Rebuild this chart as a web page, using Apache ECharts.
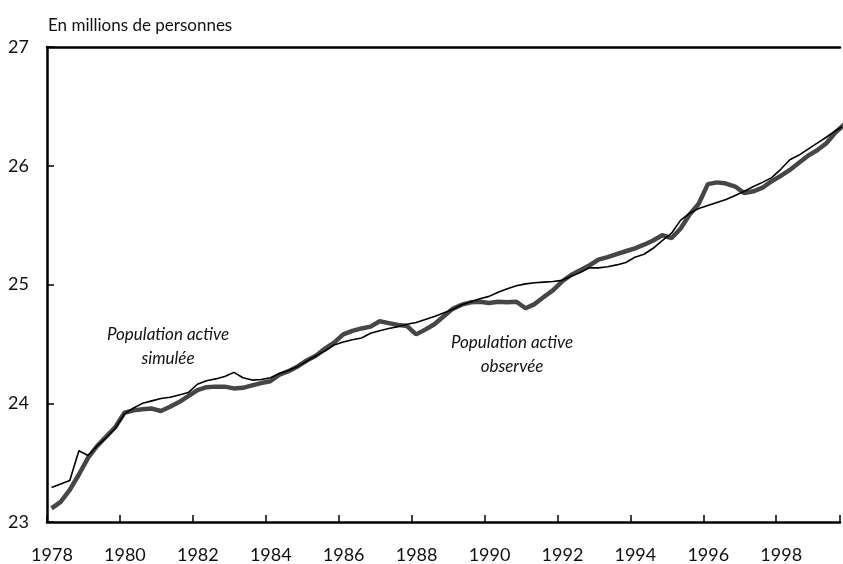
<!DOCTYPE html>
<html>
<head>
<meta charset="utf-8">
<script src="https://cdn.jsdelivr.net/npm/echarts@6/dist/echarts.min.js"></script>
<style>
html,body{margin:0;padding:0;background:#fff;}
#c{width:843px;height:564px;}
</style>
</head>
<body>
<div id="c"></div>
<script>
// Quarterly series, 1978 Q1 onwards (millions de personnes)
var startYear = 1978;
var observee = [
  23.115, 23.17, 23.27, 23.40, 23.54, 23.64, 23.72, 23.80,
  23.92, 23.94, 23.95, 23.955, 23.935, 23.97, 24.01, 24.06,
  24.11, 24.135, 24.14, 24.14, 24.125, 24.13, 24.15, 24.17,
  24.185, 24.24, 24.27, 24.31, 24.36, 24.40, 24.46, 24.51,
  24.58, 24.61, 24.63, 24.645, 24.69, 24.675, 24.66, 24.65,
  24.58, 24.62, 24.665, 24.73, 24.795, 24.83, 24.85, 24.855,
  24.845, 24.855, 24.85, 24.855, 24.80, 24.835, 24.895, 24.95,
  25.025, 25.08, 25.12, 25.16, 25.21, 25.23, 25.255, 25.28,
  25.305, 25.335, 25.37, 25.415, 25.39, 25.47, 25.59, 25.68,
  25.845, 25.86, 25.85, 25.825, 25.77, 25.785, 25.815, 25.87,
  25.915, 25.965, 26.025, 26.085, 26.13, 26.19, 26.28, 26.35
];
var simulee = [
  23.29, 23.32, 23.35, 23.60, 23.56, 23.64, 23.71, 23.79,
  23.91, 23.96, 24.00, 24.02, 24.04, 24.05, 24.07, 24.09,
  24.16, 24.19, 24.205, 24.225, 24.26, 24.215, 24.195, 24.20,
  24.215, 24.25, 24.275, 24.31, 24.355, 24.40, 24.44, 24.49,
  24.515, 24.535, 24.55, 24.59, 24.61, 24.63, 24.645, 24.665,
  24.68, 24.705, 24.73, 24.76, 24.79, 24.83, 24.855, 24.88,
  24.90, 24.935, 24.965, 24.99, 25.005, 25.015, 25.02, 25.025,
  25.035, 25.07, 25.10, 25.14, 25.14, 25.15, 25.165, 25.185,
  25.23, 25.255, 25.305, 25.37, 25.43, 25.54, 25.60, 25.64,
  25.665, 25.69, 25.715, 25.75, 25.785, 25.825, 25.86, 25.90,
  25.97, 26.05, 26.09, 26.14, 26.19, 26.24, 26.295, 26.34
];
var yTicks = [23, 24, 25, 26, 27];
var xLabelYears = [1978, 1980, 1982, 1984, 1986, 1988, 1990, 1992, 1994, 1996, 1998];
var titleText = 'En millions de personnes';
var labelSimulee = ['Population active', 'simulée'];
var labelObservee = ['Population active', 'observée'];

function toPairs(arr) {
  return arr.map(function (v, i) { return [startYear + (i + 0.5) / 4, v]; });
}

var font = 'Lato, "Open Sans", sans-serif';
var chart = echarts.init(document.getElementById('c'), null, {renderer: 'canvas'});
chart.setOption({
  animation: false,
  backgroundColor: '#fff',
  grid: {left: 47, right: -3, top: 47, bottom: 41, containLabel: false},
  title: {
    text: titleText, left: 43, top: 12,
    textStyle: {fontFamily: font, fontSize: 17, fontWeight: 'normal', color: '#111'}
  },
  xAxis: [{
    type: 'value', min: 1978, max: 1999.75, interval: 2,
    axisLine: {show: true, lineStyle: {color: '#000', width: 2.5}},
    axisTick: {show: true, inside: true, length: 7, lineStyle: {color: '#000', width: 1.5}},
    axisLabel: {
      margin: 24, fontFamily: font, fontSize: 18, color: '#111', padding: [0, 0, 0, 10],
      formatter: function (v) { return xLabelYears.indexOf(v) >= 0 ? String(v) : ''; }
    },
    splitLine: {show: false}
  }, {
    type: 'value', min: 1978, max: 1999.75, position: 'top',
    axisLine: {show: true, onZero: false, lineStyle: {color: '#000', width: 2.5}},
    axisTick: {show: false}, axisLabel: {show: false}, splitLine: {show: false}
  }],
  yAxis: {
    type: 'value', min: yTicks[0], max: yTicks[yTicks.length - 1], interval: 1,
    axisLine: {show: true, lineStyle: {color: '#000', width: 2.5}},
    axisTick: {show: true, inside: true, length: 7, lineStyle: {color: '#000', width: 1.5}},
    axisLabel: {margin: 18, fontFamily: font, fontSize: 18, color: '#111'},
    splitLine: {show: false}
  },
  series: [{
    name: 'observée', type: 'line', data: toPairs(observee), showSymbol: false,
    lineStyle: {color: '#464646', width: 4.5}, clip: true, z: 2
  }, {
    name: 'simulée', type: 'line', data: toPairs(simulee), showSymbol: false,
    lineStyle: {color: '#000', width: 1.6}, clip: true, z: 3
  }],
  graphic: [{
    type: 'text',
    style: {
      x: 168, y: 347, text: labelSimulee.join('\n'), align: 'center', verticalAlign: 'middle',
      font: 'italic 17px ' + font, fill: '#111', lineHeight: 24
    }
  }, {
    type: 'text',
    style: {
      x: 512, y: 355, text: labelObservee.join('\n'), align: 'center', verticalAlign: 'middle',
      font: 'italic 17px ' + font, fill: '#111', lineHeight: 24
    }
  }]
});
</script>
</body>
</html>
